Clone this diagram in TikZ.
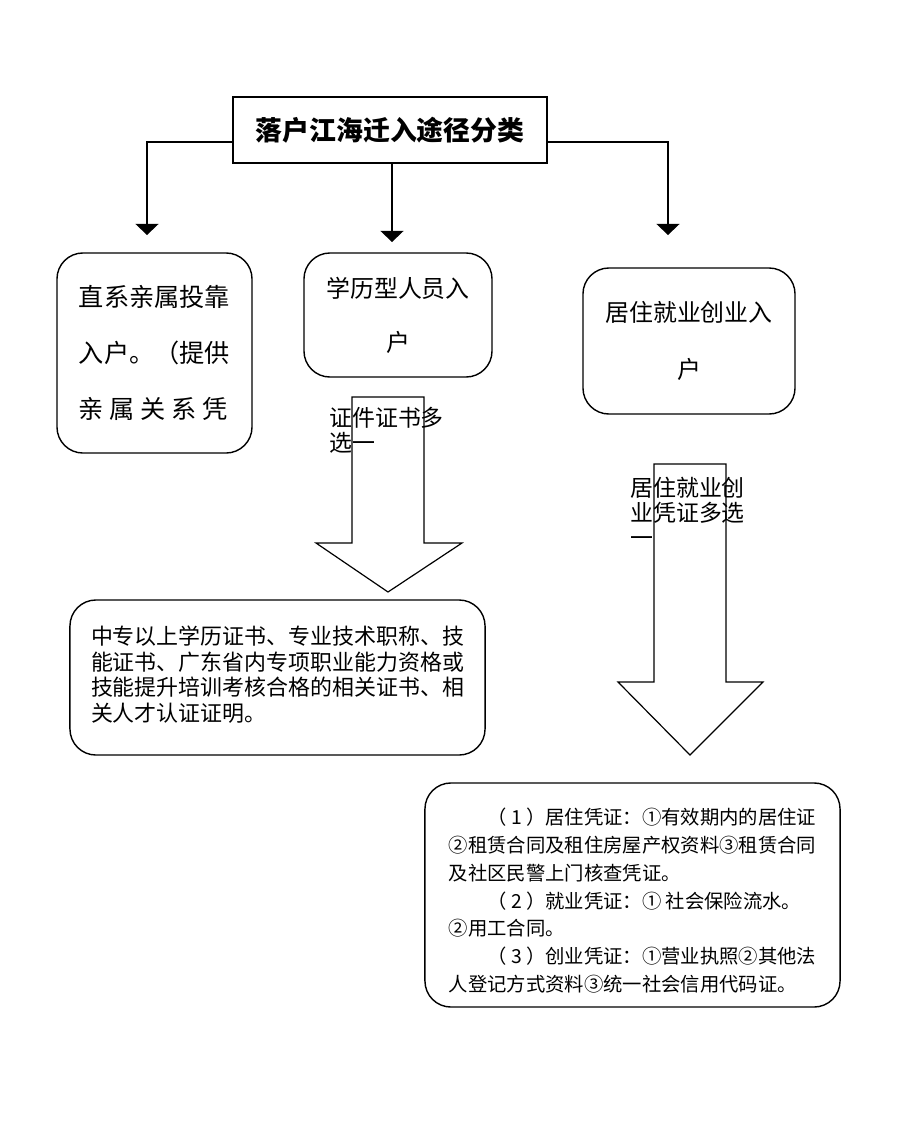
\documentclass[tikz,border=0pt]{standalone}
\usepackage{fontspec}
\setmainfont{Noto Sans CJK SC}
\usetikzlibrary{arrows.meta}

\tikzset{
  topbox/.style={draw, line width=1pt, inner sep=0pt, minimum width=7.85cm, minimum height=1.65cm,
    font=\fontsize{19.1pt}{22pt}\selectfont\bfseries},
  roundbox/.style={draw, line width=1pt, rounded corners=0.65cm, inner sep=0pt},
  link/.style={line width=0.9pt, -{Triangle[width=0.58cm,length=0.28cm]}},
  fatarrow/.style={line width=0.85pt, fill=white},
  lbl/.style={inner sep=0pt, align=left, font=\fontsize{16.3pt}{17.7pt}\selectfont},
}

\begin{document}
\begin{tikzpicture}[x=0.025cm, y=-0.025cm]
  \useasboundingbox (0,0) rectangle (906,1139);

  % title and the three ways
  \node[topbox] (title) at (390,130) {落户江海迁入途径分类};

  \node[roundbox, minimum width=4.875cm, minimum height=5cm, align=left,
    font=\fontsize{17.9pt}{39.7pt}\selectfont] (direct) at (154.5,353)
    {直系亲属投靠\\入户。（提供\\亲 属 关 系 凭};
  \node[roundbox, minimum width=4.7cm, minimum height=3.1cm, align=center,
    font=\fontsize{17pt}{38.3pt}\selectfont] (degree) at (398,315)
    {学历型人员入\\户};
  \node[roundbox, minimum width=5.3cm, minimum height=3.65cm, align=center,
    font=\fontsize{17pt}{40.4pt}\selectfont] (live) at (689,341)
    {居住就业创业入\\户};

  \coordinate (ltip) at (147,235);
  \coordinate (mtip) at (392,242);
  \coordinate (rtip) at (668,235);
  \draw[link] ([yshift=-8.5pt]title.west) -| (ltip);
  \draw[link] (title.south -| mtip) -- (mtip);
  \draw[link] ([yshift=-8.5pt]title.east) -| (rtip);

  % block arrows
  \draw[fatarrow] (352,397) -- (424,397) -- (424,543) -- (462,543) -- (388,592) -- (316,543) -- (352,543) -- cycle;
  \draw[fatarrow] (654,464) -- (726,464) -- (726,682) -- (763,682) -- (690,755) -- (618,682) -- (654,682) -- cycle;
  \node[lbl, anchor=west] (degreelbl) at (329,430) {证件证书多\\选一};
  \node[lbl, anchor=west] (livelbl) at (630,512) {居住就业创\\业凭证多选\\一};

  % what has to be shown
  \node[roundbox, minimum width=10.375cm, minimum height=3.875cm] (certs) at (277.5,677.5) {};
  \node[inner sep=0pt, align=left, font=\fontsize{15.6pt}{18.4pt}\selectfont] (certstext)
    at ([yshift=2pt]certs.center)
    {中专以上学历证书、专业技术职称、技\\能证书、广东省内专项职业能力资格或\\技能提升培训考核合格的相关证书、相\\关人才认证证明。};
  \node[roundbox, minimum width=10.375cm, minimum height=5.6cm] (proofs) at (632.5,895) {};
  \node[inner sep=0pt, align=left, font=\fontsize{13.75pt}{19.7pt}\selectfont] (proofstext)
    at ([yshift=-4pt]proofs.center)
    {　　（ 1 ）居住凭证：①有效期内的居住证\\②租赁合同及租住房屋产权资料③租赁合同\\及社区民警上门核查凭证。\\　　（ 2 ）就业凭证：① 社会保险流水。\\②用工合同。\\　　（ 3 ）创业凭证：①营业执照②其他法\\人登记方式资料③统一社会信用代码证。};
\end{tikzpicture}
\end{document}
